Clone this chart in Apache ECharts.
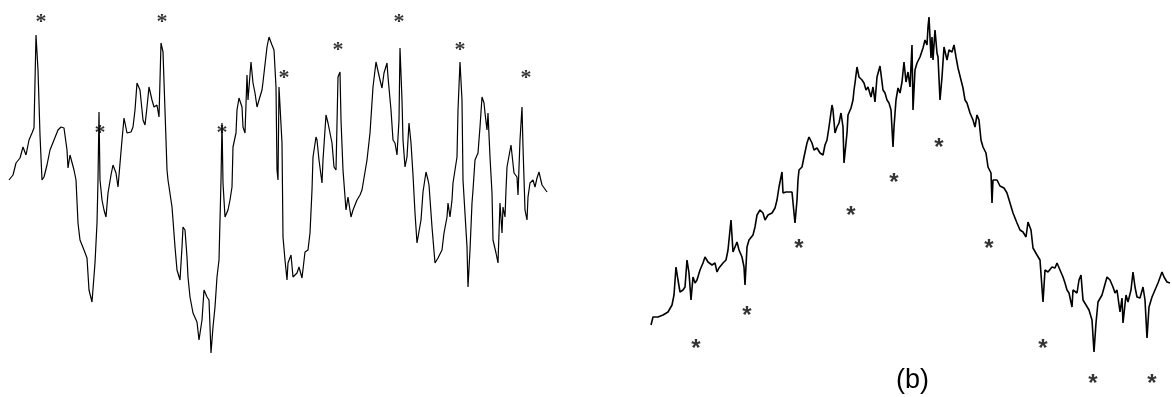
<!DOCTYPE html>
<html>
<head>
<meta charset="utf-8">
<script src="https://cdn.jsdelivr.net/npm/echarts@6/dist/echarts.min.js"></script>
<style>
  html, body { margin: 0; padding: 0; background: #fff; }
  #chart { width: 1172px; height: 397px; }
</style>
</head>
<body>
<div id="chart"></div>
<script>
// Trace (a): [sample, amplitude]
const traceA = [
  [1,180],[5,185],[8,197],[12,202],[15,213],[18,205],[21,220],[24,227],[26,232],[28,325],
  [30,290],[32,225],[34,180],[36,183],[39,195],[42,210],[46,220],[50,230],[53,233],[56,232],
  [59,210],[60,192],[62,205],[66,190],[68,180],[70,137],[72,120],[76,110],[79,102],[81,70],
  [84,58],[87,97],[89,137],[90,180],[91,248],[92,180],[94,160],[96,150],[98,143],[100,167],
  [103,185],[105,195],[108,187],[110,173],[114,220],[116,242],[119,227],[123,228],[125,233],[127,250],
  [129,277],[132,270],[135,240],[137,235],[139,253],[141,273],[144,260],[146,253],[149,255],[151,243],
  [153,317],[155,308],[158,220],[159,190],[160,180],[164,153],[165,140],[167,113],[169,90],[172,80],
  [174,113],[175,133],[177,130],[179,103],[180,83],[182,63],[185,47],[189,38],[191,20],[194,40],
  [196,70],[199,63],[201,60],[203,7],[205,33],[207,53],[209,83],[211,100],[213,180],[214,237],
  [215,177],[217,143],[220,150],[222,160],[224,173],[225,213],[228,227],[229,250],[231,262],[234,253],
  [235,233],[237,227],[239,285],[240,260],[243,298],[245,277],[247,267],[249,253],[251,260],[254,270],
  [255,278],[257,280],[259,313],[261,323],[264,315],[266,310],[268,273],[269,190],[270,180],[271,273],
  [273,272],[274,217],[275,123],[277,100],[279,80],[280,97],[283,105],[285,83],[289,87],[291,93],
  [294,82],[295,83],[297,108],[300,110],[302,127],[304,170],[305,203],[308,223],[309,220],[311,200],
  [314,177],[315,200],[318,245],[320,237],[324,217],[326,193],[328,190],[330,283],[332,288],[333,240],
  [335,190],[338,150],[340,163],[343,143],[345,150],[349,160],[352,165],[354,170],[359,200],[362,227],
  [365,273],[368,298],[370,298],[372,280],[374,272],[376,287],[379,297],[380,283],[383,250],[385,220],
  [387,217],[389,205],[391,240],[392,312],[394,260],[395,220],[397,193],[399,203],[401,237],[403,217],
  [405,185],[407,147],[409,117],[410,115],[413,140],[415,168],[418,188],[420,180],[421,175],[424,133],
  [427,97],[430,102],[434,110],[436,127],[439,143],[440,157],[442,143],[444,160],[445,177],[449,203],
  [450,250],[452,298],[454,260],[455,180],[459,113],[460,73],[462,110],[464,157],[465,170],[467,200],
  [470,207],[472,233],[474,263],[476,257],[477,247],[479,230],[480,247],[482,203],[484,167],[485,120],
  [488,107],[490,97],[492,157],[494,127],[495,153],[497,143],[498,170],[499,193],[501,192],[503,215],
  [505,213],[506,187],[509,183],[510,165],[512,220],[514,253],[515,213],[517,150],[519,140],[520,163],
  [522,177],[525,180],[527,173],[529,182],[531,188],[534,175],[536,173],[539,168]
];

// Trace (b): [sample, amplitude]
const traceB = [
  [1,35],[3,43],[8,43],[13,45],[18,48],[22,55],[24,65],[26,93],[28,80],[30,68],
  [33,70],[35,73],[37,100],[39,87],[41,60],[43,83],[45,77],[47,80],[50,90],[53,97],
  [55,103],[58,98],[62,95],[65,97],[67,88],[69,92],[73,97],[76,100],[78,110],[81,140],
  [83,108],[85,113],[87,118],[89,110],[92,103],[94,93],[95,75],[97,113],[99,120],[103,125],
  [105,133],[107,145],[110,150],[113,147],[115,140],[118,145],[122,147],[125,152],[127,160],[129,173],
  [132,188],[133,167],[136,168],[138,167],[142,168],[144,147],[145,137],[147,160],[148,180],[149,190],
  [152,193],[154,203],[157,217],[159,223],[162,217],[164,210],[167,212],[170,207],[173,205],[175,215],
  [177,220],[179,233],[182,255],[183,250],[185,227],[187,233],[189,237],[191,247],[193,233],[194,197],
  [197,227],[198,245],[201,252],[203,260],[204,270],[205,277],[207,293],[209,283],[212,280],[214,277],
  [216,270],[218,273],[221,263],[223,273],[225,258],[227,283],[230,294],[233,270],[235,267],[237,260],
  [239,257],[241,250],[243,213],[244,233],[246,260],[248,272],[250,267],[252,278],[254,298],[256,278],
  [258,288],[260,273],[262,315],[263,250],[265,290],[267,297],[270,303],[273,312],[275,320],[277,315],
  [278,333],[279,343],[281,302],[282,323],[283,300],[285,330],[287,307],[288,303],[290,260],[292,283],
  [294,313],[297,300],[299,310],[302,308],[304,315],[306,303],[308,292],[311,280],[313,272],[315,260],
  [317,257],[320,247],[323,240],[325,233],[327,245],[329,240],[331,220],[333,213],[336,207],[338,193],
  [341,187],[342,157],[343,180],[347,180],[350,174],[354,172],[357,167],[360,157],[363,147],[367,137],
  [370,130],[373,128],[376,123],[378,138],[381,130],[383,112],[387,105],[390,100],[392,100],[393,58],
  [395,90],[398,88],[402,93],[405,92],[407,97],[410,90],[413,83],[415,77],[417,70],[419,67],
  [422,53],[423,70],[427,67],[429,80],[431,85],[433,60],[436,55],[439,50],[442,40],[444,8],
  [446,37],[448,58],[452,65],[454,63],[457,83],[460,80],[463,73],[465,67],[467,70],[470,48],
  [472,62],[473,37],[476,65],[478,58],[481,70],[483,88],[485,73],[487,63],[490,62],[493,73],
  [495,60],[497,22],[499,53],[502,63],[505,70],[508,77],[512,88],[514,83],[517,78],[520,77]
];

// Event markers ("*") for each trace
const eventsA = [[33,343],[154,343],[92,232],[214,232],[276,287],[330,315],[391,343],[452,315],[518,287]];
const eventsB = [[46,16],[97,49],[149,116],[201,149],[244,182],[289,217],[339,116],[393,16],[443,-19],[502,-19]];

const panelLabel = '(b)';

const chart = echarts.init(document.getElementById('chart'), null, { renderer: 'canvas' });

function starSeries(data, axisIdx, family, size, dy) {
  return {
    type: 'scatter',
    xAxisIndex: axisIdx,
    yAxisIndex: axisIdx,
    data: data,
    symbolSize: 1,
    itemStyle: { color: 'rgba(0,0,0,0)' },
    silent: true,
    label: {
      show: true,
      position: 'inside',
      formatter: '*',
      color: '#000',
      fontWeight: 'bold',
      fontFamily: family,
      fontSize: size,
      offset: [0, dy]
    },
    z: 5
  };
}

chart.setOption({
  animation: false,
  backgroundColor: '#ffffff',
  grid: [
    { left: 8, width: 540, top: 0, bottom: 0, containLabel: false },
    { left: 650, width: 522, top: 0, bottom: 0, containLabel: false }
  ],
  xAxis: [
    { type: 'value', gridIndex: 0, min: 0, max: 540, show: false },
    { type: 'value', gridIndex: 1, min: 0, max: 522, show: false }
  ],
  yAxis: [
    { type: 'value', gridIndex: 0, min: -37, max: 360, show: false },
    { type: 'value', gridIndex: 1, min: -37, max: 360, show: false }
  ],
  series: [
    {
      type: 'line', xAxisIndex: 0, yAxisIndex: 0, data: traceA,
      showSymbol: false, symbol: 'none',
      lineStyle: { color: '#000', width: 1.2 }, silent: true
    },
    {
      type: 'line', xAxisIndex: 1, yAxisIndex: 1, data: traceB,
      showSymbol: false, symbol: 'none',
      lineStyle: { color: '#000', width: 1.6 }, silent: true
    },
    starSeries(eventsA, 0, '"Liberation Serif", "DejaVu Serif", serif', 22, 5),
    starSeries(eventsB, 1, '"Liberation Sans", "DejaVu Sans", sans-serif', 24, 5)
  ],
  graphic: [
    {
      type: 'text',
      x: 896,
      y: 381,
      style: {
        text: panelLabel,
        fill: '#000',
        verticalAlign: 'middle',
        font: '27px "Liberation Sans", Arial, sans-serif'
      }
    }
  ]
});
</script>
</body>
</html>
